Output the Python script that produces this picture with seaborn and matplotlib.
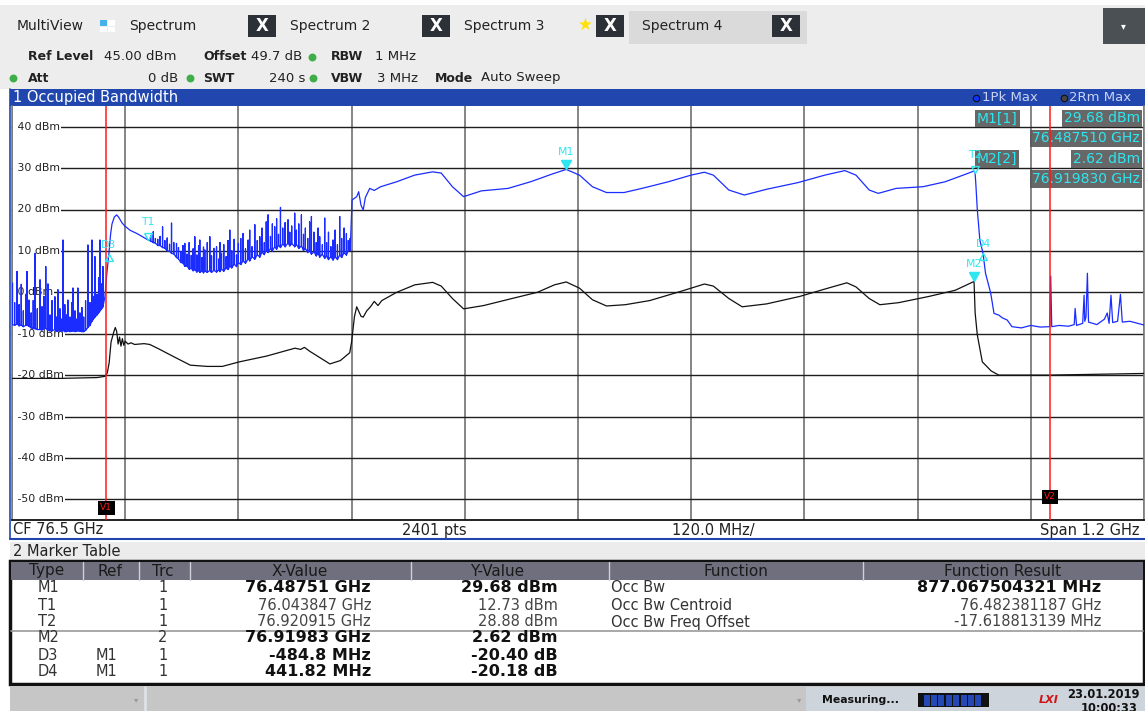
import matplotlib
matplotlib.use("Agg")
import matplotlib.pyplot as plt
from matplotlib.patches import Rectangle
import numpy as np
import pandas as pd
import seaborn as sns

# ---------------- data ----------------
# trace 1 "1Pk Max" (GHz, dBm)
# noisy band left of the channel: spike position, floor under it, spike top
pk_a_f = [75.9005, 75.9028, 75.9053, 75.9075, 75.9098, 75.9120, 75.9145, 75.9159, 75.9180, 75.9203,
          75.9225, 75.9244, 75.9268, 75.9297, 75.9318, 75.9340, 75.9358, 75.9381, 75.9402, 75.9425,
          75.9455, 75.9470, 75.9487, 75.9508, 75.9525, 75.9540, 75.9560, 75.9578, 75.9593, 75.9615,
          75.9632, 75.9646, 75.9668, 75.9683, 75.9699, 75.9720, 75.9741, 75.9760, 75.9780, 75.9805,
          75.9826, 75.9847, 75.9863, 75.9879, 75.9900, 75.9918, 75.9932, 75.9950, 75.9964]
pk_a_floor = [-7.8, -8.0, -7.6, -8.1, -7.9, -8.3, -8.0, -7.9, -8.2, -8.6,
              -8.7, -8.8, -9.0, -9.0, -9.1, -8.8, -8.7, -9.2, -9.3, -9.3,
              -9.0, -9.4, -9.2, -9.4, -9.5, -9.2, -9.5, -9.5, -9.3, -9.5,
              -9.4, -9.3, -9.5, -9.4, -9.3, -9.4, -9.5, -9.5, -9.2, -8.5,
              -8.0, -7.0, -6.5, -6.0, -5.5, -5.0, -4.5, -4.0, -3.5]
pk_a_top = [2.2, -2.5, 5.0, -3.0, 1.9, -4.5, -0.5, 5.0, -1.9, -5.0,
            -2.0, 9.4, -4.0, 3.0, -3.5, -1.0, 6.2, 2.0, -5.5, -2.0,
            -1.1, -6.0, 0.6, -4.0, -6.5, 12.6, -3.0, -5.5, -1.9, -6.0,
            -2.5, 1.0, -4.5, -6.5, 1.0, -5.0, -3.7, -6.0, -2.0, 11.4,
            -2.5, 12.6, -1.0, 8.6, -0.5, 3.5, 12.6, 2.0, 6.2]

# rising edge and the smooth slope down to T1
pk_ramp_f = [75.9985, 76.0003, 76.0027, 76.0045, 76.0060, 76.0085, 76.0110, 76.0135, 76.0165, 76.0197,
             76.0250, 76.0324, 76.0400, 76.0438]
pk_ramp_db = [-1.1, 4.0, 9.3, 14.0, 16.5, 18.2, 18.7, 18.0, 16.8, 16.0,
              15.0, 14.2, 13.2, 12.7]

# noisy band inside the channel: spike position, floor, spike top
pk_b_f = [76.0470, 76.0497, 76.0520, 76.0545, 76.0570, 76.0596, 76.0620, 76.0645, 76.0670, 76.0691,
          76.0715, 76.0744, 76.0765, 76.0790, 76.0812, 76.0832, 76.0855, 76.0878, 76.0900, 76.0920,
          76.0938, 76.0960, 76.0978, 76.0991, 76.1015, 76.1030, 76.1044, 76.1070, 76.1097, 76.1115,
          76.1140, 76.1168, 76.1190, 76.1205, 76.1221, 76.1245, 76.1270, 76.1290, 76.1309, 76.1330,
          76.1355, 76.1380, 76.1400, 76.1425, 76.1450, 76.1475, 76.1503, 76.1520, 76.1545, 76.1574,
          76.1600, 76.1627, 76.1650, 76.1675, 76.1695, 76.1715, 76.1740, 76.1760, 76.1785, 76.1805,
          76.1825, 76.1846, 76.1870, 76.1895, 76.1926, 76.1945, 76.1965, 76.1997, 76.2015, 76.2040,
          76.2068, 76.2090, 76.2110, 76.2135, 76.2155, 76.2174, 76.2200, 76.2225, 76.2245, 76.2262,
          76.2290, 76.2315, 76.2335, 76.2355, 76.2380, 76.2403, 76.2425, 76.2450, 76.2474, 76.2495,
          76.2520, 76.2545, 76.2565, 76.2585]
pk_b_floor = [12.4, 12.0, 11.9, 11.3, 11.3, 10.8, 10.7, 10.0, 9.9, 9.4,
              9.3, 8.4, 8.1, 7.2, 7.1, 6.3, 6.4, 5.6, 5.8, 5.2,
              5.5, 4.9, 5.3, 4.8, 5.2, 4.7, 5.2, 4.8, 5.3, 4.8,
              5.3, 4.9, 5.4, 5.0, 5.6, 5.1, 5.9, 5.5, 6.3, 5.9,
              6.8, 6.2, 7.2, 6.7, 7.6, 7.0, 8.1, 7.6, 8.6, 8.0,
              9.1, 8.5, 9.7, 9.1, 10.2, 9.6, 10.6, 10.0, 11.0, 10.4,
              11.4, 10.8, 11.7, 11.0, 11.9, 11.2, 11.8, 11.0, 11.6, 10.6,
              11.2, 10.1, 10.6, 9.6, 10.2, 9.2, 9.8, 8.8, 9.4, 8.5,
              9.2, 8.2, 8.8, 7.9, 8.6, 7.8, 8.6, 7.9, 9.0, 8.4,
              9.6, 9.0, 10.1, 10.2]
pk_b_top = [13.6, 14.6, 13.0, 12.8, 13.5, 15.8, 12.5, 13.1, 11.6, 16.7,
            12.0, 11.8, 10.8, 9.8, 11.3, 11.8, 9.2, 12.0, 8.9, 10.5,
            13.4, 9.0, 11.2, 12.6, 8.4, 10.9, 10.2, 12.0, 13.4, 8.8,
            10.6, 11.0, 8.0, 12.0, 9.4, 11.5, 8.6, 12.5, 15.0, 10.0,
            12.8, 9.0, 11.8, 13.0, 14.2, 10.5, 12.6, 15.0, 11.0, 16.3,
            12.5, 13.4, 15.5, 12.0, 17.0, 18.7, 13.5, 16.5, 15.8, 17.8,
            14.0, 20.5, 15.5, 16.8, 17.5, 14.5, 16.0, 19.1, 15.0, 16.5,
            18.7, 14.0, 15.5, 13.0, 17.0, 18.3, 14.5, 12.0, 15.5, 13.4,
            11.5, 17.9, 12.0, 14.5, 11.0, 12.6, 15.0, 11.5, 18.3, 13.0,
            15.5, 14.2, 12.5, 13.0]

# occupied channel, smooth ripple
pk_main_f = [76.2605, 76.2654, 76.2675, 76.2700, 76.2723, 76.2746, 76.2792, 76.2840, 76.2908, 76.3078,
             76.3268, 76.3459, 76.3550, 76.3669, 76.3787, 76.3976, 76.4259, 76.4497, 76.4730, 76.48751,
             76.5016, 76.5153, 76.5302, 76.5488, 76.5678, 76.5958, 76.6198, 76.6340, 76.6435, 76.6599,
             76.6763, 76.7002, 76.7332, 76.7616, 76.7829, 76.7947, 76.8087, 76.8183, 76.8373, 76.8657,
             76.8892, 76.9083, 76.9198, 76.920915]
pk_main_db = [22.3, 23.1, 24.3, 21.0, 19.9, 22.9, 25.1, 24.6, 25.5, 26.7,
              28.3, 29.1, 28.8, 25.5, 23.1, 24.5, 25.1, 26.7, 28.6, 29.68,
              28.3, 25.5, 24.1, 24.1, 25.1, 26.7, 28.3, 29.0, 28.3, 24.7,
              23.5, 24.9, 26.5, 28.3, 29.4, 28.3, 24.7, 23.9, 25.1, 25.5,
              26.7, 28.3, 29.3, 28.88]

# falling edge and noise floor on the right
pk_tail_f = [76.9217, 76.9233, 76.9260, 76.9293, 76.9320, 76.9375, 76.9410, 76.9460, 76.9500, 76.9550,
             76.9600, 76.9700, 76.9800, 76.9900, 77.0000, 77.0011, 77.0022, 77.0100, 77.0200, 77.0260,
             77.0270, 77.0285, 77.0350, 77.0365, 77.0372, 77.0385, 77.0400, 77.0412, 77.0500, 77.0580,
             77.0610, 77.0630, 77.0650, 77.0668, 77.0720, 77.0750, 77.0770, 77.0850, 77.0950, 77.1000]
pk_tail_db = [26.3, 19.9, 12.6, 9.5, 4.6, -0.2, -5.1, -5.5, -6.2, -6.7,
              -8.3, -8.6, -8.0, -8.4, -8.3, 3.9, -8.3, -8.0, -8.2, -7.8,
              -3.9, -8.0, -7.5, -0.7, -7.0, -6.0, 4.6, -7.2, -7.8, -6.5,
              -5.0, -7.5, -0.7, -7.3, -7.0, -0.5, -7.2, -7.0, -7.6, -7.9]

# trace 2 "2Rm Max"
rm_f = [75.9000, 75.9500, 75.9900, 75.9985, 76.0010, 76.0030, 76.0050, 76.0080, 76.0095, 76.0110,
        76.0125, 76.0140, 76.0155, 76.0170, 76.0185, 76.0200, 76.0230, 76.0260, 76.0300, 76.0400,
        76.0460, 76.0550, 76.0710, 76.0890, 76.1070, 76.1230, 76.1410, 76.1700, 76.1920, 76.2000,
        76.2060, 76.2100, 76.2160, 76.2370, 76.2480, 76.2580, 76.2600, 76.2630, 76.2654, 76.2700,
        76.2723, 76.2760, 76.2800, 76.2840, 76.2880, 76.2920, 76.3078, 76.3270, 76.3459, 76.3550,
        76.3669, 76.3787, 76.4000, 76.4300, 76.4570, 76.4750, 76.4875, 76.5016, 76.5153, 76.5302,
        76.5500, 76.5760, 76.6100, 76.6340, 76.6435, 76.6599, 76.6740, 76.7000, 76.7350, 76.7650,
        76.7850, 76.7947, 76.8087, 76.8200, 76.8400, 76.8720, 76.9000, 76.91983, 76.9210, 76.9233,
        76.9286, 76.9380, 76.9460, 77.0000, 77.0500, 77.1000]
rm_db = [-20.8, -20.8, -20.6, -20.3, -19.5, -17.0, -12.0, -9.5, -8.5, -9.5,
         -12.5, -10.8, -13.0, -11.2, -12.8, -11.8, -12.5, -12.2, -12.6, -12.4,
         -12.6, -13.6, -15.5, -17.6, -17.9, -17.9, -16.8, -15.4, -14.0, -13.5,
         -13.8, -13.3, -14.3, -17.3, -16.5, -14.6, -12.0, -5.9, -3.5, -5.8,
         -6.0, -4.5, -3.5, -2.2, -3.2, -2.0, 0.0, 1.8, 2.4, 1.5,
         -1.5, -4.0, -3.2, -1.5, 0.0, 1.8, 2.5, 1.0, -1.8, -3.3,
         -3.0, -2.0, 0.3, 2.0, 1.5, -1.5, -3.5, -2.8, -1.0, 1.0,
         2.3, 1.3, -1.5, -3.0, -2.5, -1.0, 0.5, 2.62, -5.0, -10.3,
         -16.8, -19.0, -20.0, -20.0, -19.8, -19.6]

# markers
mk_names = ["M1", "T1", "T2", "M2", "D3", "D4"]
mk_freq = [76.48751, 76.043847, 76.920915, 76.91983, 76.00271, 76.92933]
mk_level = [29.68, 12.73, 28.88, 2.62, 9.28, 9.50]
mk_kind = ["fill", "down", "down", "fill", "up", "up"]

# display lines
vline_names = ["V1", "V2"]
vline_freq = [76.0, 77.0]

# marker table
tbl_type = ["M1", "T1", "T2", "M2", "D3", "D4"]
tbl_ref = ["", "", "", "", "M1", "M1"]
tbl_trc = ["1", "1", "1", "2", "1", "1"]
tbl_x = ["76.48751 GHz", "76.043847 GHz", "76.920915 GHz", "76.91983 GHz", "-484.8 MHz", "441.82 MHz"]
tbl_y = ["29.68 dBm", "12.73 dBm", "28.88 dBm", "2.62 dBm", "-20.40 dB", "-20.18 dB"]
tbl_bold = [True, False, False, True, True, True]
func_name = ["Occ Bw", "Occ Bw Centroid", "Occ Bw Freq Offset"]
func_result = ["877.067504321 MHz", "76.482381187 GHz", "-17.618813139 MHz"]

y_ticks = [40, 30, 20, 10, 0, -10, -20, -30, -40, -50]

# ---------------- styling ----------------
W, H = 1145, 711
L, T, R, B = 12, 106, 1144, 520   # diagram area in screen pixels
BLUE = "#1a2cff"
CYAN = "#2ee6f0"
RED = "#ff1a1a"
BAR_BLUE = "#2147af"

sns.set_theme(style="white")
plt.rcParams["font.family"] = ["DejaVu Sans"]

fig = plt.figure(figsize=(W / 100, H / 100), dpi=100, facecolor="white")

# screen chrome, drawn in pixel coordinates
bg = fig.add_axes([0, 0, 1, 1], zorder=0)
bg.set_xlim(0, W)
bg.set_ylim(H, 0)
bg.axis("off")


def box(x0, y0, x1, y1, **kw):
    bg.add_patch(Rectangle((x0, y0), x1 - x0, y1 - y0, **kw))


def txt(x, y, s, **kw):
    kw.setdefault("va", "center")
    kw.setdefault("color", "#222222")
    bg.text(x, y, s, **kw)


# toolbar
box(0, 5, W, 89, fc="#ededed", ec="none")
box(629, 11, 807, 44, fc="#dadada", ec="none")
box(1103, 8, W, 44, fc="#4b5055", ec="none")
txt(1123, 26, "\u25be", color="white", fontsize=7, ha="center")
txt(17, 26, "MultiView", fontsize=10)
box(100, 20, 107, 26, fc="#47b2ea", ec="none")
box(108, 20, 115, 26, fc="white", ec="none")
box(100, 27, 107, 32, fc="white", ec="none")
box(108, 27, 115, 32, fc="white", ec="none")
for label, lx in [("Spectrum", 129), ("Spectrum 2", 290), ("Spectrum 3", 464), ("Spectrum 4", 642)]:
    txt(lx, 26, label, fontsize=10)
for x0 in [248, 422, 596, 772]:
    box(x0, 15, x0 + 28, 37, fc="#2b3136", ec="none")
    txt(x0 + 14, 26, "X", color="white", fontsize=12, fontweight="bold", ha="center")
txt(585, 25, "\u2605", color="#ffe000", fontsize=12, ha="center")

# settings lines
txt(28, 57, "Ref Level", fontsize=9, fontweight="bold")
txt(104, 57, "45.00 dBm", fontsize=9.5)
txt(203, 57, "Offset", fontsize=9, fontweight="bold")
txt(251, 57, "49.7 dB", fontsize=9.5)
txt(331, 57, "RBW", fontsize=9, fontweight="bold")
txt(375, 57, "1 MHz", fontsize=9.5)
txt(28, 78, "Att", fontsize=9, fontweight="bold")
txt(178, 78, "0 dB", fontsize=9.5, ha="right")
txt(203, 78, "SWT", fontsize=9, fontweight="bold")
txt(305, 78, "240 s", fontsize=9.5, ha="right")
txt(331, 78, "VBW", fontsize=9, fontweight="bold")
txt(377, 78, "3 MHz", fontsize=9.5)
txt(435, 78, "Mode", fontsize=9, fontweight="bold")
txt(481, 78, "Auto Sweep", fontsize=9.5)
bg.scatter([312, 13, 190, 313], [57, 78, 78, 78], s=22, color="#3fae49", zorder=3)

# window title bar
box(10, 89, W, 106, fc=BAR_BLUE, ec="none")
txt(13, 97.5, "1 Occupied Bandwidth", color="white", fontsize=10.5)
bg.scatter([976], [97.5], s=22, color="#1030ff", edgecolors="#111111", linewidths=0.8, zorder=3)
bg.scatter([1064], [97.5], s=22, color="#444444", edgecolors="#111111", linewidths=0.8, zorder=3)
txt(982, 97.5, "1Pk Max", color="#c8d2f2", fontsize=9.5)
txt(1069, 97.5, "2Rm Max", color="#c8d2f2", fontsize=9.5)

# footer of the diagram
txt(13, 530, "CF 76.5 GHz", fontsize=10.5)
txt(402, 530, "2401 pts", fontsize=10.5)
txt(672, 530, "120.0 MHz/", fontsize=10.5)
txt(1140, 530, "Span 1.2 GHz", fontsize=10.5, ha="right")
bg.plot([10, 10], [89, 539], color=BAR_BLUE, lw=1.2)
bg.plot([10, W], [539, 539], color=BAR_BLUE, lw=1.5)

# marker table
box(10, 542, W, 561, fc="#ececec", ec="none")
txt(13, 552, "2 Marker Table", fontsize=10.5)
box(10, 561, 1144, 684, fc="white", ec="#111111", lw=2.5, zorder=1)
box(11, 562, 1143, 580, fc="#6f6f7d", ec="none", zorder=2)
for sx in [83, 138.5, 189.5, 411, 608.5, 863]:
    bg.plot([sx, sx], [562, 580], color="#d0d0d8", lw=1, zorder=3)
for head, hx in [("Type", 47), ("Ref", 110), ("Trc", 163), ("X-Value", 300),
                 ("Y-Value", 497), ("Function", 736), ("Function Result", 1003)]:
    txt(hx, 571, head, fontsize=11, ha="center", color="#1a1a1a", zorder=3)
bg.plot([11, 1143], [631, 631], color="#9a9a9a", lw=1.2, zorder=3)

row_y = [588, 605.5, 622, 638, 655, 671.5]
for i, ry in enumerate(row_y):
    txt(38, ry, tbl_type[i], fontsize=10.5, color="#333333", zorder=3)
    txt(96, ry, tbl_ref[i], fontsize=10.5, color="#333333", zorder=3)
    txt(163, ry, tbl_trc[i], fontsize=10.5, color="#333333", ha="center", zorder=3)
    if tbl_bold[i]:
        style = dict(fontsize=11.5, fontweight="bold", color="#111111")
    else:
        style = dict(fontsize=10.5, color="#444444")
    txt(371, ry, tbl_x[i], ha="right", zorder=3, **style)
    txt(558, ry, tbl_y[i], ha="right", zorder=3, **style)
for i, (fn, fr) in enumerate(zip(func_name, func_result)):
    txt(611, row_y[i], fn, fontsize=10.5, color="#333333", zorder=3)
    if i == 0:
        txt(1101, row_y[i], fr, fontsize=11.5, fontweight="bold", color="#111111", ha="right", zorder=3)
    else:
        txt(1101, row_y[i], fr, fontsize=10.5, color="#444444", ha="right", zorder=3)

# status bar
box(10, 687, 806, H, fc="#c6c6c6", ec="none")
box(806, 687, W, H, fc="#cdd4db", ec="none")
bg.plot([145, 145], [687, H], color="#dde2e8", lw=2)
txt(136, 700, "\u25be", fontsize=6, color="#9a9a9a", ha="center")
txt(799, 700, "\u25be", fontsize=6, color="#9a9a9a", ha="center")
txt(822, 700, "Measuring...", fontsize=7.8, fontweight="bold", color="#111111")
box(918, 693, 989, 707, fc="#111111", ec="none")
for k in range(8):
    box(923.5 + k * 7.4, 694.5, 929.5 + k * 7.4, 705.5, fc="#2448b4", ec="none")
txt(1049, 700, "LXI", fontsize=8, fontweight="bold", style="italic", color="#d01616", ha="center")
txt(1067, 694, "23.01.2019", fontsize=8.3, fontweight="bold", color="#111111")
txt(1081, 708, "10:00:33", fontsize=8.3, fontweight="bold", color="#111111")

# ---------------- the diagram itself ----------------
ax = fig.add_axes([L / W, 1 - B / H, (R - L) / W, (B - T) / H], zorder=1)
ax.set_facecolor("white")


def spike_frame(freqs, floors, tops):
    # each spike: up from the floor and straight back down
    rows = []
    for f, lo, hi in zip(freqs, floors, tops):
        rows += [(f, lo), (f, hi), (f, lo)]
    return pd.DataFrame(rows, columns=["freq", "level"])


def line_frame(freqs, levels):
    return pd.DataFrame({"freq": freqs, "level": levels})


pk = pd.concat([spike_frame(pk_a_f, pk_a_floor, pk_a_top),
                line_frame(pk_ramp_f, pk_ramp_db),
                spike_frame(pk_b_f, pk_b_floor, pk_b_top),
                line_frame(pk_main_f, pk_main_db),
                line_frame(pk_tail_f, pk_tail_db)], ignore_index=True)
rm = line_frame(rm_f, rm_db)

sns.lineplot(data=rm, x="freq", y="level", ax=ax, color="#111111", lw=0.9,
             estimator=None, sort=False, zorder=3)
sns.lineplot(data=pk, x="freq", y="level", ax=ax, color=BLUE, lw=0.9,
             estimator=None, sort=False, zorder=3.5)

ax.set_xlim(75.9, 77.1)
ax.set_ylim(-55, 45)
ax.set_xticks(np.linspace(75.9, 77.1, 11))
ax.set_yticks(y_ticks)
ax.tick_params(length=0, labelbottom=False, labelleft=False)
ax.set_xlabel("")
ax.set_ylabel("")
ax.set_axisbelow(True)
ax.xaxis.grid(True, color="#7c7c7c", lw=1.3)
ax.yaxis.grid(True, color="#1e1e1e", lw=1.0)
for side in ["left", "right"]:
    ax.spines[side].set_color("#7c7c7c")
    ax.spines[side].set_linewidth(1.2)
ax.spines["top"].set_visible(False)
ax.spines["bottom"].set_color("#111111")
ax.spines["bottom"].set_linewidth(1.3)

for v in y_ticks:
    ax.text(0.0015, v, f" {v} dBm", transform=ax.get_yaxis_transform(), fontsize=7.8,
            color="#222222", va="center", ha="left", zorder=2,
            bbox=dict(fc="white", ec="none", pad=0.8))

# display lines V1 / V2
for name, f, yv in zip(vline_names, vline_freq, [-52.1, -49.4]):
    ax.axvline(f, color=RED, lw=1.1, zorder=6)
    ax.text(f, yv, name, fontsize=6.5, color=RED, ha="center", va="center", zorder=7,
            bbox=dict(fc="black", ec="none", pad=1.6))

# marker symbols
tri_down = [(-1, 1.8), (1, 1.8), (0, 0), (-1, 1.8)]
tri_up = [(-1, -1.8), (1, -1.8), (0, 0), (-1, -1.8)]
for name, f, v, kind in zip(mk_names, mk_freq, mk_level, mk_kind):
    if kind == "fill":
        ax.plot(f, v, marker=tri_down, ms=13, color=CYAN, mec=CYAN, zorder=8)
        dy = 12.5
    elif kind == "down":
        ax.plot(f, v, marker=tri_down, ms=10, mfc="none", mec=CYAN, mew=1, zorder=8)
        dy = 12.5
    else:
        ax.plot(f, v, marker=tri_up, ms=10, mfc="none", mec=CYAN, mew=1, zorder=8)
        dy = 6.5
    ax.annotate(name, (f, v), xytext=(0, dy), textcoords="offset points", ha="center",
                va="center", color=CYAN, fontsize=7.8, zorder=8)


# marker info field, top right (pixel positions inside the diagram)
def px(x, y):
    return (x - L) / (R - L), (B - y) / (B - T)


info = [("M1[1]", 977, 118.5, "left"), (f"{mk_level[0]:.2f} dBm", 1140, 118.5, "right"),
        ("76.487510 GHz", 1140, 138.5, "right"),
        ("M2[2]", 977, 159, "left"), (f"{mk_level[3]:.2f} dBm", 1140, 159, "right"),
        ("76.919830 GHz", 1140, 179, "right")]
for s, x, y, ha in info:
    ax.text(*px(x, y), s, transform=ax.transAxes, ha=ha, va="center", fontsize=10,
            color=CYAN, zorder=5, bbox=dict(fc="#5a5a5a", ec="none", pad=1.4, alpha=0.92))

fig.savefig("out.png", dpi=100, facecolor="white")
